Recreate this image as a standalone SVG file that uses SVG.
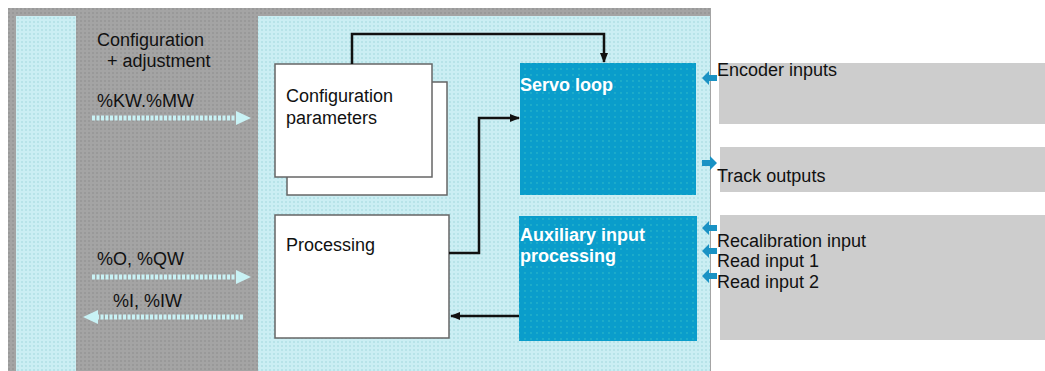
<svg xmlns="http://www.w3.org/2000/svg" width="1045" height="371" viewBox="0 0 1045 371">
<style>
text{font-family:"Liberation Sans",Arial,sans-serif;font-size:18px;fill:#111}
.w{fill:#fff;font-weight:bold}
.box{fill:#fff;stroke:#666;stroke-width:1.5}
.blue{fill:#0a9dcb}
.panel{fill:#cdcdcd}
.conn{fill:none;stroke:#111;stroke-width:2.5}
.carr{stroke:#c8f2f5;stroke-width:5;stroke-dasharray:3 1.5}
.cah{fill:#c8f2f5}
.sa{fill:#1a92c4}
</style>
<defs>
<marker id="ah" viewBox="0 0 10 10" refX="9" refY="5" markerWidth="4" markerHeight="4" orient="auto" markerUnits="strokeWidth">
<path d="M0,1 L10,5 L0,9 z" fill="#111"/>
</marker>
<pattern id="dots" width="6" height="6" patternUnits="userSpaceOnUse">
<circle cx="3" cy="3" r="0.9" fill="#36c0c8" opacity="0.6"/>
</pattern>
<pattern id="ldots" width="4" height="4" patternUnits="userSpaceOnUse">
<rect width="4" height="4" fill="#cbeef3"/>
<circle cx="2" cy="2" r="0.8" fill="#9ed6dc"/>
</pattern>
<pattern id="gdots" width="4" height="4" patternUnits="userSpaceOnUse">
<rect width="4" height="4" fill="#a4a4a4"/>
<rect width="2" height="2" fill="#999"/>
</pattern>
</defs>
<rect width="1045" height="371" fill="#fff"/>
<g id="background">
<rect x="8" y="8" width="703" height="363" fill="url(#gdots)"/>
<rect x="16" y="16" width="60" height="355" fill="url(#ldots)"/>
<rect x="258" y="16" width="452" height="355" fill="url(#ldots)"/>
</g>
<g id="panels">
<rect class="panel" x="719" y="63" width="326" height="61"/>
<rect class="panel" x="720" y="147" width="325" height="45"/>
<rect class="panel" x="720" y="215" width="325" height="125"/>
</g>
<g id="config-params">
<rect class="box" x="287" y="82" width="160" height="113"/>
<rect class="box" x="275" y="64" width="157" height="113"/>
<text x="286" y="102">Configuration</text>
<text x="286" y="124">parameters</text>
</g>
<g id="processing">
<rect class="box" x="275" y="215" width="174" height="123"/>
<text x="286" y="251">Processing</text>
</g>
<g id="servo-loop">
<rect class="blue" x="520" y="63" width="176" height="132"/>
<rect fill="url(#dots)" x="520" y="63" width="176" height="132"/>
<text class="w" x="520" y="91">Servo loop</text>
</g>
<g id="aux-processing">
<rect class="blue" x="519" y="216" width="178" height="125"/>
<rect fill="url(#dots)" x="519" y="216" width="178" height="125"/>
<text class="w" x="520" y="241">Auxiliary input</text>
<text class="w" x="520" y="262">processing</text>
</g>
<g id="connectors">
<path class="conn" d="M352,64 V34 H604 V62" marker-end="url(#ah)"/>
<path class="conn" d="M449,253 H479 V118 H519" marker-end="url(#ah)"/>
<path class="conn" d="M519,316 H451" marker-end="url(#ah)"/>
<line class="carr" x1="92" y1="118" x2="238" y2="118"/>
<path class="cah" d="M236,111 L251,118 L236,125 z"/>
<line class="carr" x1="92" y1="277" x2="238" y2="277"/>
<path class="cah" d="M236,270 L251,277 L236,284 z"/>
<line class="carr" x1="96" y1="317" x2="243" y2="317"/>
<path class="cah" d="M98,310 L83,317 L98,324 z"/>
<path class="sa" d="M702,78 L709,71 V75 H717 V81 H709 V85 z"/>
<path class="sa" d="M717,163 L710,156 V160 H702 V166 H710 V170 z"/>
<path class="sa" d="M702,228 L709,221 V225 H717 V231 H709 V235 z"/>
<path class="sa" d="M702,251 L709,244 V248 H717 V254 H709 V258 z"/>
<path class="sa" d="M702,276 L709,269 V273 H717 V279 H709 V283 z"/>
</g>
<g id="labels">
<text x="97" y="46">Configuration</text>
<text x="107" y="67">+ adjustment</text>
<text x="97" y="107">%KW.%MW</text>
<text x="97" y="265">%O, %QW</text>
<text x="113" y="307">%I, %IW</text>
<text x="717" y="76">Encoder inputs</text>
<text x="717" y="182">Track outputs</text>
<text x="717" y="247">Recalibration input</text>
<text x="717" y="267">Read input 1</text>
<text x="717" y="288">Read input 2</text>
</g>
</svg>
